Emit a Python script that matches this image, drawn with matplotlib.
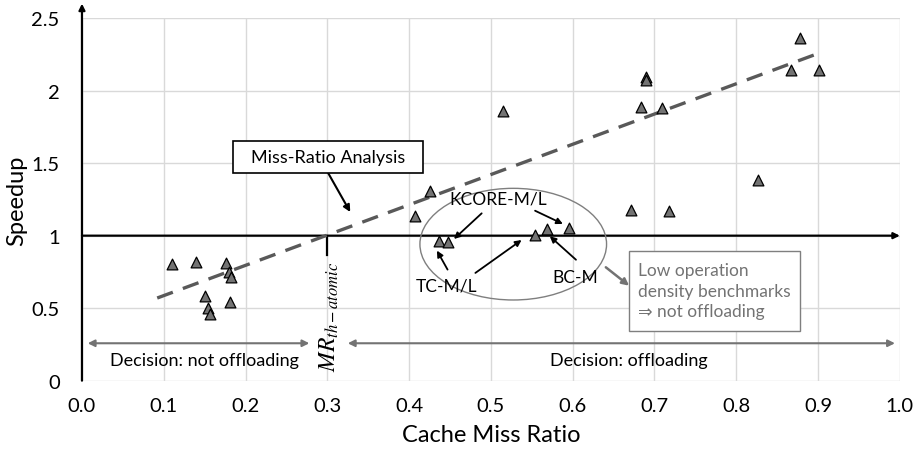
import matplotlib.pyplot as plt
from matplotlib.patches import Ellipse, Rectangle

plt.rcParams['font.family'] = ['Lato', 'DejaVu Sans']
plt.rcParams['mathtext.fontset'] = 'stix'

# Data
miss_ratio = [0.110, 0.139, 0.176, 0.180, 0.182, 0.151, 0.154, 0.156, 0.181,
              0.425, 0.407, 0.436, 0.448, 0.554, 0.568, 0.595, 0.671, 0.718,
              0.827, 0.515, 0.684, 0.709, 0.690, 0.690, 0.867, 0.901, 0.878]
speedup = [0.805, 0.817, 0.81, 0.75, 0.713, 0.586, 0.50, 0.46, 0.545,
           1.306, 1.138, 0.966, 0.959, 1.007, 1.046, 1.051, 1.18, 1.168,
           1.384, 1.858, 1.886, 1.879, 2.097, 2.074, 2.145, 2.143, 2.366]

trend_x = [0.092, 0.897]
trend_y = [0.57, 2.25]

x_ticks = [0.0, 0.1, 0.2, 0.3, 0.4, 0.5, 0.6, 0.7, 0.8, 0.9, 1.0]
y_ticks = [0, 0.5, 1, 1.5, 2, 2.5]
y_labels = ['0', '0.5', '1', '1.5', '2', '2.5']

mr_threshold = 0.3

fig = plt.figure(figsize=(9.2, 4.56), dpi=100)
ax = fig.add_axes([0.0891, 0.163, 0.889, 0.795])
ax.set_xlim(0, 1.0)
ax.set_ylim(0, 2.5)

for s in ax.spines.values():
    s.set_visible(False)
ax.set_xticks(x_ticks)
ax.set_xticklabels([f'{v:.1f}' for v in x_ticks])
ax.set_yticks(y_ticks)
ax.set_yticklabels(y_labels)
ax.tick_params(axis='x', length=0, labelsize=14.5, pad=12)
ax.tick_params(axis='y', length=0, labelsize=14.5, pad=16)
ax.grid(True, color='#d9d9d9', lw=1)
ax.set_axisbelow(True)
ax.set_xlabel('Cache Miss Ratio', fontsize=17, labelpad=7)
ax.set_ylabel('Speedup', fontsize=17, labelpad=3)

# axes drawn as arrows
ax.annotate('', xy=(0, 2.6), xytext=(0, 0), annotation_clip=False,
            arrowprops=dict(arrowstyle='-|>', color='black', lw=1.6,
                            mutation_scale=9, shrinkA=0, shrinkB=0))
ax.annotate('', xy=(1.0, 1.0), xytext=(0, 1.0), annotation_clip=False,
            arrowprops=dict(arrowstyle='-|>', color='black', lw=1.6,
                            mutation_scale=9, shrinkA=0, shrinkB=0))
ax.plot([mr_threshold, mr_threshold], [1.0, 0.87], color='black', lw=1.6)

ax.plot(trend_x, trend_y, color='#595959', lw=2.4, dashes=(5, 3.2), zorder=3)
ax.scatter(miss_ratio, speedup, marker='^', s=60, facecolor='#737373',
           edgecolor='black', linewidth=0.9, zorder=4)

ax.text(0.302, 0.45, r'$MR_{th-atomic}$', rotation=90, ha='center',
        va='center', fontsize=17)

# decision arrows
gray = '#737373'
ax.annotate('', xy=(0.007, 0.258), xytext=(0.278, 0.258),
            arrowprops=dict(arrowstyle='<|-|>', color=gray, lw=1.5,
                            mutation_scale=10, shrinkA=0, shrinkB=0))
ax.annotate('', xy=(0.325, 0.258), xytext=(0.994, 0.258),
            arrowprops=dict(arrowstyle='<|-|>', color=gray, lw=1.5,
                            mutation_scale=10, shrinkA=0, shrinkB=0))
ax.text(0.15, 0.143, 'Decision: not offloading', ha='center', va='center',
        fontsize=13)
ax.text(0.668, 0.143, 'Decision: offloading', ha='center', va='center',
        fontsize=13)

# Miss-Ratio Analysis box
ax.add_patch(Rectangle((0.1846, 1.432), 0.2323, 0.221, fc='white', ec='black',
                       lw=1.2, zorder=5))
ax.text(0.301, 1.543, 'Miss-Ratio Analysis', ha='center', va='center',
        fontsize=13, zorder=6)
ax.annotate('', xy=(0.328, 1.163), xytext=(0.301, 1.432),
            arrowprops=dict(arrowstyle='-|>', color='black', lw=1.5,
                            mutation_scale=10, shrinkA=0, shrinkB=0))

# ellipse and labels
ax.add_patch(Ellipse((0.5273, 0.9414), 0.2282, 0.770, fill=False,
                     ec='#7f7f7f', lw=1.0, zorder=3))
arrow_k = dict(arrowstyle='-|>', color='black', lw=1.3, mutation_scale=9,
               shrinkA=0, shrinkB=0)
ax.text(0.509, 1.258, 'KCORE-M/L', ha='center', va='center', fontsize=12.5)
ax.annotate('', xy=(0.4548, 0.977), xytext=(0.4887, 1.154), arrowprops=arrow_k)
ax.annotate('', xy=(0.588, 1.081), xytext=(0.554, 1.172), arrowprops=arrow_k)
ax.text(0.446, 0.655, 'TC-M/L', ha='center', va='center', fontsize=12.5)
ax.annotate('', xy=(0.434, 0.897), xytext=(0.447, 0.766), arrowprops=arrow_k)
ax.annotate('', xy=(0.5375, 0.970), xytext=(0.481, 0.743), arrowprops=arrow_k)
ax.text(0.603, 0.717, 'BC-M', ha='center', va='center', fontsize=12.5)
ax.annotate('', xy=(0.572, 0.996), xytext=(0.604, 0.834), arrowprops=arrow_k)

# low operation density box
ax.add_patch(Rectangle((0.669, 0.343), 0.209, 0.554, fc='white', ec='#7f7f7f',
                       lw=1.0, zorder=5))
ax.text(0.680, 0.62, 'Low operation\ndensity benchmarks\n\u21d2 not offloading',
        ha='left', va='center', fontsize=12.5, color='#737373',
        linespacing=1.35, zorder=6)
ax.annotate('', xy=(0.669, 0.655), xytext=(0.6405, 0.782),
            arrowprops=dict(arrowstyle='-|>', color=gray, lw=1.8,
                            mutation_scale=10, shrinkA=0, shrinkB=0))

fig.savefig('out.png', dpi=100)
